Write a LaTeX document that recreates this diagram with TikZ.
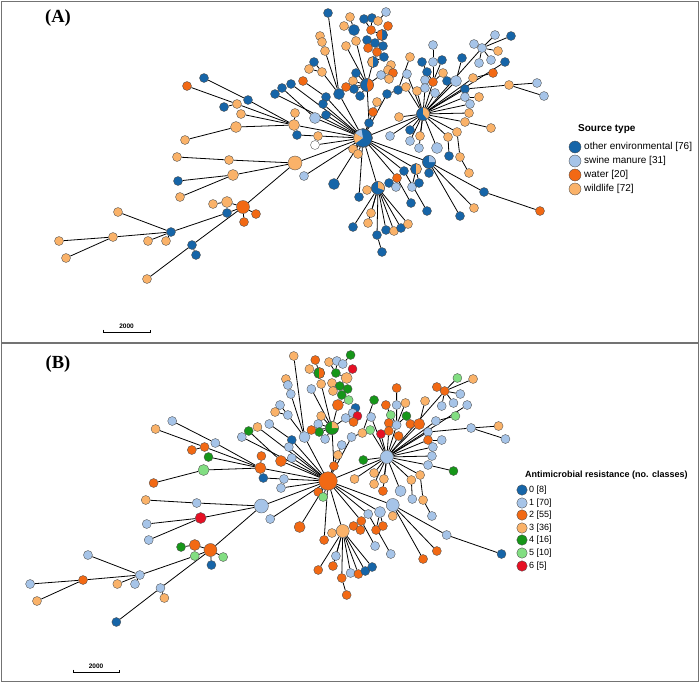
\documentclass[tikz,border=0pt]{standalone}
\usepackage{fontspec}
\setmainfont{Liberation Serif}
\setsansfont{Liberation Sans}
\usepackage{tikz}
\usetikzlibrary{backgrounds}

% source type colours (A)
\definecolor{cE}{RGB}{22,101,168}
\definecolor{cM}{RGB}{166,196,232}
\definecolor{cW}{RGB}{242,105,20}
\definecolor{cF}{RGB}{250,178,105}
\definecolor{cN}{RGB}{255,255,255}
% resistance colours (B)
\colorlet{c0}{cE}
\colorlet{c1}{cM}
\colorlet{c2}{cW}
\colorlet{c3}{cF}
\definecolor{c4}{RGB}{22,150,25}
\definecolor{c5}{RGB}{130,222,130}
\definecolor{c6}{RGB}{230,16,36}

% id/x/y/size/colour A/colour B
\def\mstnodes{0/363/138/18.5/cE/c2, 1/294/125/11/cF/c2, 2/295/163/14/cF/c1,
  3/204/78/9/cE/c1, 4/248/100/9/cE/c1, 5/187/86/9/cW/c3, 6/237/104/9/cF/c2,
  7/224/107/9/cE/c2, 8/241/114/9/cF/c4, 9/236/127/11/cF/c5, 10/185/140/9/cF/c2,
  11/295/113/9/cF/c2, 12/297/135/9/cE/c0, 13/318/136/9/cF/c1, 14/315/145/9/cN/c1,
  15/315/118/11/cM/c2, 16/275/94/9/cE/c1, 17/282/88/9/cE/c4, 18/291/84/9/cE/c3,
  19/303/81/9/cW/c1, 20/326/97/9/cE/c0, 21/323/104/9/cE/c1, 22/326/115/9/cE/c1,
  23/339/94/11/cE/c1, 24/328/13/9/cE/c3, 25/320/36/9/cF/c3, 26/322/42/9/cF/c1,
  27/325/51/9/cF/c1, 28/314/62/9/cE/c1, 29/309/69/9/cF/c3, 30/322/72/9/cF/c1,
  31/346/46/9/cF/c1, 32/304/176/9/cM/c1, 33/334/184/11/cE/c2, 34/229/160/9/cF/c1,
  35/177/157/9/cF/c3, 36/233/175/11/cF/c6, 37/178/181/9/cE/c1, 38/180/197/9/cF/c1,
  39/243/207/13/cW/c2, 40/227/202/11/cF/c2, 41/213/204/9/cF/c4, 42/227/213/9/cE/c5,
  43/256/214/9/cW/c5, 44/244/222/9/cW/c0, 45/171/232/9/cE/c1, 46/118/212/9/cF/c1,
  47/113/237/9/cF/c2, 48/59/241/9/cF/c1, 49/66/258/9/cF/c3, 50/148/241/9/cF/c3,
  51/166/241/9/cF/c1, 52/192/245/9/cE/c1, 53/196/255/9/cE/c3, 54/147/279/9/cF/c0,
  55/367/85/13/cE/c4, 56/350/17/9/cF/c2, 57/344/26/9/cF/c3, 58/354/30/11/cE/c4,
  59/356/41/9/cF/c3, 60/364/19/9/cE/c3, 61/372/18/9/cE/c1, 62/378/21/9/cF/c1,
  63/386/12/9/cM/c4, 64/371/30/9/cW/c4, 65/388/26/9/cW/c6, 66/382/35/11/cE/c3,
  67/367/40/9/cE/c3, 68/375/43/9/cE/c4, 69/383/46/9/cE/c4, 70/368/48/9/cW/c3,
  71/377/52/9/cW/c4, 72/384/57/9/cE/c5, 73/373/62/11/cF/c2, 74/391/65/9/cF/c0,
  75/388/70/9/cF/c1, 76/393/73/9/cW/c6, 77/381/75/9/cM/c1, 78/389/79/9/cF/c2,
  79/356/73/9/cE/c3, 80/353/81/9/cF/c1, 81/354/89/9/cE/c4, 82/346/87/9/cW/c2,
  83/360/96/9/cE/c1, 84/377/102/9/cF/c1, 85/373/112/9/cW/c3, 86/387/94/9/cE/c1,
  87/398/90/9/cE/c3, 88/369/123/9/cE/c2, 89/423/114/13/cE/c1, 90/410/57/9/cF/c4,
  91/433/45/9/cM/c2, 92/422/62/9/cE/c2, 93/433/62/9/cM/c1, 94/442/60/9/cE/c3,
  95/427/72/9/cE/c5, 96/443/73/9/cF/c4, 97/407/74/9/cM/c1, 98/425/80/9/cM/c2,
  99/433/82/9/cW/c1, 100/447/81/9/cE/c2, 101/456/81/11/cM/c2, 102/406/87/9/cF/c5,
  103/417/91/9/cF/c6, 104/425/88/9/cM/c2, 105/435/93/9/cM/c2, 106/462/58/9/cE/c3,
  107/474/44/9/cM/c2, 108/482/48/9/cM/c2, 109/495/35/9/cM/c5, 110/511/36/9/cE/c3,
  111/498/51/9/cF/c1, 112/479/63/9/cM/c1, 113/491/60/9/cM/c1, 114/505/62/9/cE/c1,
  115/493/73/9/cW/c5, 116/473/78/9/cF/c1, 117/465/89/9/cE/c1, 118/509/85/9/cF/c1,
  119/537/83/9/cM/c3, 120/544/96/9/cM/c1, 121/479/97/9/cF/c1, 122/465/97/9/cM/c2,
  123/470/104/9/cM/c1, 124/469/113/9/cF/c1, 125/465/122/9/cF/c1, 126/491/128/9/cF/c4,
  127/399/117/9/cF/c4, 128/410/130/9/cE/c3, 129/420/136/9/cF/c3, 130/457/132/9/cF/c3,
  131/448/137/9/cF/c3, 132/390/136/9/cM/c3, 133/410/141/9/cM/c3, 134/419/148/9/cM/c2,
  135/437/148/11/cM/c1, 136/449/156/9/cE/c1, 137/460/157/9/cF/c3, 138/469/173/9/cF/c1,
  139/429/162/13/cE/c1, 140/429/173/9/cE/c3, 141/416/169/11/cE/c1, 142/404/171/9/cE/c1,
  143/397/178/9/cW/c2, 144/389/183/9/cE/c2, 145/396/187/9/cM/c2, 146/412/187/9/cM/c2,
  147/419/183/9/cE/c2, 148/411/203/9/cE/c1, 149/427/211/9/cE/c1, 150/474/208/9/cF/c2,
  151/460/216/9/cE/c2, 152/484/192/9/cE/c1, 153/540/211/9/cW/c0, 154/378/188/13/cE/c3,
  155/367/190/9/cF/c3, 156/359/197/9/cE/c2, 157/371/213/9/cF/c1, 158/368/223/9/cF/c2,
  159/353/227/9/cE/c2, 160/377/235/9/cE/c2, 161/382/252/9/cE/c2, 162/386/230/9/cE/c1,
  163/394/231/9/cF/c2, 164/401/228/9/cE/c0, 165/408/224/9/cF/c0, 166/353/149/9/cF/c2,
  167/358/154/9/cF/c5}

% tree links
\def\mstedges{0/1, 0/2, 0/13, 13/12, 0/14, 0/15, 15/17, 0/16, 0/18, 0/20, 20/19, 0/21,
  0/22, 0/23, 23/24, 23/27, 27/26, 26/25, 23/30, 30/28, 30/29, 0/32, 0/33, 0/166, 0/167,
  0/88, 88/55, 0/85, 85/84, 0/86, 86/87, 87/90, 0/89, 0/139, 0/154, 0/156, 0/141, 0/142, 0/143,
  1/4, 4/3, 1/6, 6/5, 6/7, 1/8, 1/9, 9/10, 1/11,
  2/34, 34/35, 2/36, 36/37, 36/38, 2/39,
  39/40, 40/41, 39/43, 39/44, 39/42, 42/45, 39/52, 52/53, 52/54,
  45/46, 45/47, 47/48, 47/49, 45/50, 45/51,
  55/73, 73/71, 73/72, 71/70, 71/68, 68/67, 68/69, 68/66, 66/64, 66/65, 64/60, 64/61,
  61/62, 62/63, 55/77, 77/78, 77/75, 75/74, 75/76, 55/79, 55/80, 55/81, 55/82, 55/83,
  55/59, 59/58, 58/56, 58/57, 55/31,
  89/127, 89/128, 89/129, 89/97, 89/102, 89/103, 89/104, 89/105, 89/99, 99/93, 93/91,
  99/95, 95/92, 99/94, 99/96, 99/98, 89/101, 101/100, 101/106, 89/108, 108/107, 108/109,
  108/110, 108/111, 108/112, 108/113, 89/114, 89/116, 116/115, 89/117, 117/118, 118/119,
  118/120, 89/122, 122/121, 89/123, 89/124, 89/125, 125/126, 89/132, 89/133, 89/134,
  89/135, 89/131, 131/136, 89/130, 130/137, 137/138,
  139/140, 139/150, 139/151, 139/152, 152/153, 141/146, 141/147, 143/144, 143/145,
  143/148, 142/149,
  154/155, 154/157, 154/158, 154/159, 154/160, 160/161, 154/162, 154/163, 154/164, 154/165}

% node, radius (pt), start, end, colour
\newcommand{\pieslice}[5]{%
  \fill[#5] (#1.center) -- ++(#3:#2pt) arc[start angle=#3, end angle=#4, radius=#2pt] -- cycle;
  \draw[black!70, line width=0.35pt] (#1.center) circle[radius=#2pt];}

\begin{document}
\begin{tikzpicture}[x=1pt, y=-1pt,
    mstnode/.style={circle, draw=black!70, line width=0.35pt, inner sep=0pt},
    mstedge/.style={black, line width=0.8pt},
    panelframe/.style={draw=black!55, line width=1.3pt},
    legtext/.style={font=\sffamily\fontsize{10}{12}\selectfont, inner sep=0pt, anchor=west},
    scaletext/.style={font=\sffamily\bfseries\fontsize{6.5}{7}\selectfont, inner sep=0pt}]
    \useasboundingbox (0,0) rectangle (700,683);

    % Panels
    \draw[panelframe] (1.5,1.5) rectangle (698.5,343);
    \draw[panelframe] (1.5,343) rectangle (698.5,681.5);
    \node[font=\bfseries\fontsize{18.5}{20}\selectfont] (labA) at (58,18) {(A)};
    \node[font=\bfseries\fontsize{18.5}{20}\selectfont] (labB) at (58,364) {(B)};

    % Panel A: source type
    \begin{scope}
        \foreach \id/\x/\y/\sz/\ca/\cb in \mstnodes
            \node[mstnode, minimum size=\sz pt, fill=\ca] (A\id) at (\x,\y) {};
        \begin{pgfonlayer}{background}
            \foreach \u/\v in \mstedges \draw[mstedge] (A\u) -- (A\v);
        \end{pgfonlayer}
    \end{scope}

    % Panel B: resistance classes
    \begin{scope}[shift={(-27.7,343)}, xscale=0.98]
        \foreach \id/\x/\y/\sz/\ca/\cb in \mstnodes
            \node[mstnode, minimum size=\sz pt, fill=\cb] (B\id) at (\x,\y) {};
        \begin{pgfonlayer}{background}
            \foreach \u/\v in \mstedges \draw[mstedge] (B\u) -- (B\v);
        \end{pgfonlayer}
    \end{scope}

    % mixed nodes
    \pieslice{A0}{9.25}{100}{150}{cM}
    \pieslice{A0}{9.25}{150}{215}{cF}
    \pieslice{A55}{6.5}{-80}{80}{cW}
    \pieslice{A66}{5.5}{90}{270}{cW}
    \pieslice{A73}{5.5}{-90}{90}{cE}
    \pieslice{A89}{6.5}{-50}{90}{cF}
    \pieslice{A139}{6.5}{0}{90}{cM}
    \pieslice{A141}{5.5}{-90}{90}{cF}
    \pieslice{A154}{6.5}{-20}{90}{cF}
    \pieslice{B55}{6.5}{0}{90}{c3}
    \pieslice{B58}{5.5}{-90}{90}{c2}

    % Scale bars
    \draw[line width=0.6pt] (103,329.5) -- (103,332) -- (150,332) -- (150,329.5);
    \node[scaletext] (sbA) at (126.5,326.5) {2000};
    \draw[line width=0.6pt] (73,669.5) -- (73,672) -- (119,672) -- (119,669.5);
    \node[scaletext] (sbB) at (96,666.5) {2000};

    % Legend A
    \node[legtext, font=\sffamily\bfseries\fontsize{10}{12}\selectfont] (legAt) at (578,129) {Source type};
    \foreach \ii/\yy/\col/\lbl in {1/147/cE/other environmental [76], 2/161/cM/swine manure [31],
        3/175/cW/water [20], 4/189/cF/wildlife [72]} {
        \node[mstnode, minimum size=12pt, fill=\col] (legA\ii) at (575,\yy) {};
        \node[legtext] (legAl\ii) at (584,\yy) {\lbl};
    }

    % Legend B
    \node[legtext, font=\sffamily\bfseries\fontsize{9}{11}\selectfont] (legBt) at (525,475) {Antimicrobial resistance (no. classes)};
    \foreach \ii/\yy/\col/\lbl in {0/490/c0/0 [8], 1/503/c1/1 [70], 2/515/c2/2 [55], 3/528/c3/3 [36],
        4/540/c4/4 [16], 5/553/c5/5 [10], 6/566/c6/6 [5]} {
        \node[mstnode, minimum size=10.5pt, fill=\col] (legB\ii) at (522,\yy) {};
        \node[legtext, font=\sffamily\fontsize{9}{11}\selectfont] (legBl\ii) at (529,\yy) {\lbl};
    }
\end{tikzpicture}
\end{document}
